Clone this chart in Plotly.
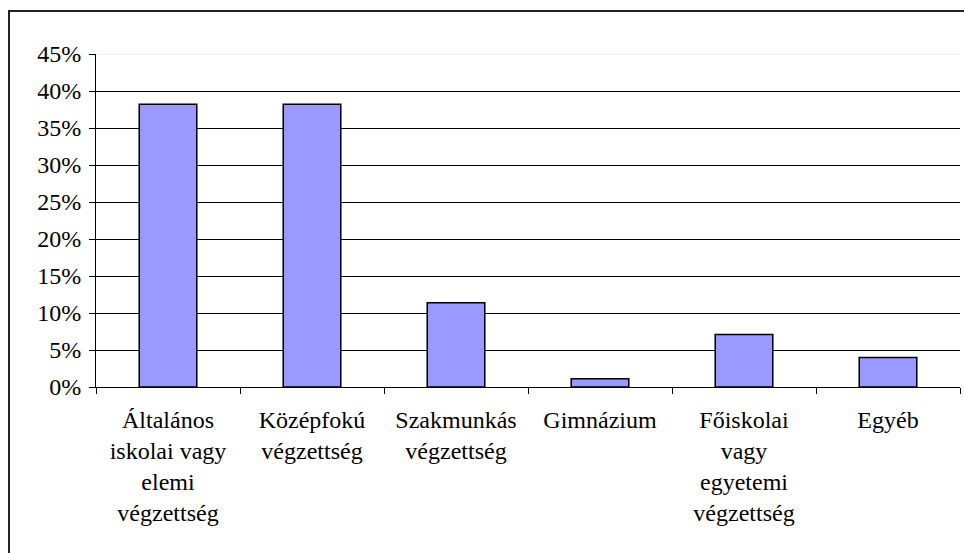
import plotly.graph_objects as go

categories = [
    "Általános<br>iskolai vagy<br>elemi<br>végzettség",
    "Középfokú<br>végzettség",
    "Szakmunkás<br>végzettség",
    "Gimnázium",
    "Főiskolai<br>vagy<br>egyetemi<br>végzettség",
    "Egyéb",
]
values = [0.382, 0.382, 0.114, 0.011, 0.071, 0.040]

FONT = dict(family="Liberation Serif", size=24, color="black")

fig = go.Figure()
fig.add_trace(go.Bar(
    x=categories, y=values,
    marker=dict(color="#9999FF", line=dict(color="black", width=1.5)),
    width=0.4,
    hoverinfo="skip",
))

fig.update_layout(
    width=964, height=553,
    margin=dict(l=96, r=4, t=54, b=166),
    paper_bgcolor="white", plot_bgcolor="white",
    font=FONT,
    showlegend=False,
    bargap=0.6,
    shapes=[
        dict(type="line", xref="paper", yref="y", x0=0, x1=1, y0=0.45, y1=0.45,
             line=dict(color="#e0e0e0", width=1)),
        dict(type="rect", xref="paper", yref="paper",
             x0=(9 - 96) / 864, x1=1.2, y0=-1, y1=(387 - 11) / 333,
             line=dict(color="#222", width=2), fillcolor="rgba(0,0,0,0)"),
    ],
)
fig.update_xaxes(
    showline=True, linecolor="black", linewidth=1,
    ticks="outside", ticklen=6, tickcolor="black", tickwidth=1,
    tickson="boundaries", tickangle=0, ticklabelstandoff=11,
    showgrid=False, tickfont=FONT,
)
fig.update_yaxes(
    range=[0, 0.45], dtick=0.05, tickformat=".0%",
    showline=True, linecolor="black", linewidth=1,
    ticks="outside", ticklen=6, tickcolor="black", tickwidth=1,
    ticklabelstandoff=3,
    showgrid=True, gridcolor="black", gridwidth=1,
    zeroline=False, tickfont=FONT,
)

fig.write_html("out.html", config={"displayModeBar": False},
               post_script="document.body.style.margin='0px';")
